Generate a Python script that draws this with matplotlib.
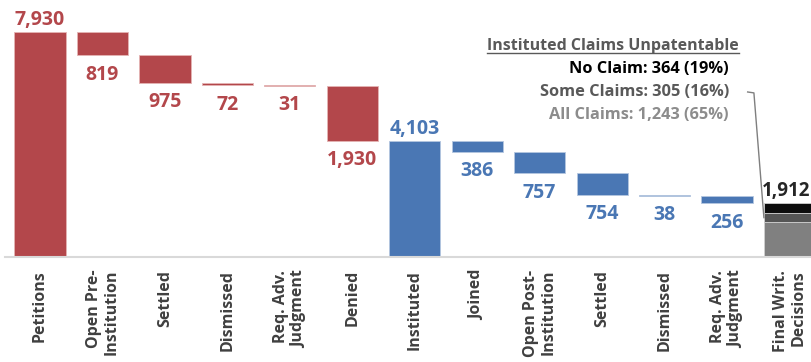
import matplotlib.pyplot as plt
from matplotlib.lines import Line2D

plt.rcParams['font.family'] = ['Open Sans', 'DejaVu Sans']

categories = ['Petitions', 'Open Pre-\nInstitution', 'Settled', 'Dismissed',
              'Req. Adv.\nJudgment', 'Denied', 'Instituted', 'Joined',
              'Open Post-\nInstitution', 'Settled', 'Dismissed',
              'Req. Adv.\nJudgment', 'Final Writ.\nDecisions']
amounts = [7930, 819, 975, 72, 31, 1930, 4103, 386, 757, 754, 38, 256, 1912]
kinds = ['total', 'drop', 'drop', 'drop', 'drop', 'drop',
         'total', 'drop', 'drop', 'drop', 'drop', 'drop', 'final']
stage = ['pre'] * 6 + ['post'] * 6 + ['final']

# final written decisions split by outcome (stacked bottom to top)
outcome_names = ['All Claims', 'Some Claims', 'No Claim']
outcome_counts = [1243, 305, 364]

red = '#B3474B'
blue = '#4A77B4'
stage_colors = {'pre': red, 'post': blue}
stage_edges = {'pre': '#e4b4b4', 'post': '#b4c6e0'}
outcome_colors = ['#808080', '#555555', '#0D0D0D']
outcome_text_colors = ['#8C8C8C', '#595959', '#000000']

fig = plt.figure(figsize=(8.12, 3.62), dpi=100)
ax = fig.add_axes([5 / 812, 0.2892, 807 / 812, 0.7072])

width = 0.82
label_size = 14
level = 0
for i, (amt, kind) in enumerate(zip(amounts, kinds)):
    if kind == 'final':
        bottom = 0
        for cnt, col in zip(outcome_counts, outcome_colors):
            ax.bar(i, cnt, width, bottom=bottom, color=col,
                   edgecolor='#d0d0d0', linewidth=0.6, zorder=2)
            bottom += cnt
        # nudged left so it stays inside the right edge
        ax.annotate(f'{amt:,}', (i, amt), xytext=(-2.5, 1.5), textcoords='offset points',
                    ha='center', va='bottom', fontsize=13.5, fontweight='bold',
                    color='#262626')
        continue
    col = stage_colors[stage[i]]
    edge = stage_edges[stage[i]]
    if kind == 'total':
        level = amt
        ax.bar(i, amt, width, bottom=0, color=col, edgecolor=edge, linewidth=0.6, zorder=2)
        ax.annotate(f'{amt:,}', (i, amt), xytext=(0, 1.5), textcoords='offset points',
                    ha='center', va='bottom', fontsize=label_size, fontweight='bold', color=col)
    else:
        level -= amt
        ax.bar(i, amt, width, bottom=level, color=col, edgecolor=edge, linewidth=0.6, zorder=2)
        ax.annotate(f'{amt:,}', (i, level), xytext=(0, -7), textcoords='offset points',
                    ha='center', va='top', fontsize=label_size, fontweight='bold', color=col)

ax.set_xlim(-0.56, 12.36)
ax.set_ylim(0, 9000)
ax.set_xticks(range(len(categories)))
ax.set_xticklabels(categories, rotation=90, fontsize=11.5, fontweight='bold',
                   color='#404040', multialignment='right', linespacing=1.15)
ax.tick_params(axis='x', length=0, pad=9)
ax.set_yticks([])
for side in ['left', 'right', 'top']:
    ax.spines[side].set_visible(False)
ax.spines['bottom'].set_color('#d9d9d9')
ax.spines['bottom'].set_linewidth(1.5)

# outcome breakdown text block
total_final = sum(outcome_counts)
tx = 11.03
title = ax.text(11.19, 7427, 'Instituted Claims Unpatentable', ha='right', va='center',
                fontsize=11.5, fontweight='bold', color='#595959')
ys = [5003, 5812, 6620]
for name, cnt, col, y in zip(outcome_names, outcome_counts, outcome_text_colors, ys):
    ax.text(tx, y, f'{name}: {cnt:,} ({cnt / total_final:.0%})', ha='right', va='center',
            fontsize=11.8, fontweight='bold', color=col)

# leader line from "Some Claims" to its segment
seg_y = outcome_counts[0] + outcome_counts[1] / 2
ax.plot([11.33, 11.43, 12 - width / 2], [5812, 5780, seg_y], color='#7f7f7f',
        linewidth=1, zorder=3, clip_on=False)

# underline the block title
fig.canvas.draw()
bb = title.get_window_extent()
inv = fig.transFigure.inverted()
(x0, y0), (x1, _) = inv.transform([(bb.x0, bb.y0 + 1), (bb.x1, bb.y0 + 1)])
fig.add_artist(Line2D([x0, x1], [y0, y0], color='#595959', linewidth=1))

fig.savefig('out.png', dpi=100)
